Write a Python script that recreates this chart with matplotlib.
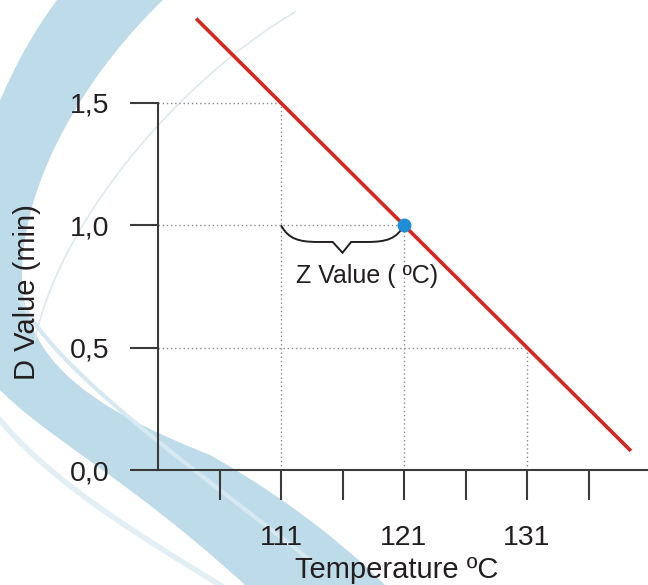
"""D value vs temperature with the Z value bracket."""

import numpy as np
import matplotlib
matplotlib.use("Agg")
import matplotlib.pyplot as plt
from matplotlib.path import Path
from matplotlib.patches import PathPatch, Polygon
from matplotlib.transforms import Affine2D

plt.rcParams["font.family"] = ["Liberation Sans", "DejaVu Sans"]

# values
grid_temps = [111, 121, 131]
grid_d = [1.5, 1.0, 0.5]
line_temps = [104.1, 139.45]
line_d = [1.845, 0.078]
ref_temp = 121
ref_d = 1.0
z_span = [111, 121]
x_ticks = [106, 111, 116, 121, 126, 131, 136]
x_labels = ["", "111", "", "121", "", "131", ""]
y_ticks = [0.0, 0.5, 1.0, 1.5]
y_labels = ["0,0", "0,5", "1,0", "1,5"]

W, H = 648, 585
INK = "#231f20"
AXIS = "#3a3a3a"


def bezier(*segments, n=60):
    """Chain of cubic segments, each given as (p0, p1, p2, p3), in pixel coords."""
    t = np.linspace(0, 1, n)[:, None]
    out = []
    for p0, p1, p2, p3 in segments:
        p0, p1, p2, p3 = (np.array(p, float) for p in (p0, p1, p2, p3))
        out.append(((1 - t) ** 3) * p0 + 3 * ((1 - t) ** 2) * t * p1
                   + 3 * (1 - t) * t ** 2 * p2 + t ** 3 * p3)
    return np.vstack(out)


def main() -> None:
    fig = plt.figure(figsize=(W / 100, H / 100), dpi=100)
    px = Affine2D().scale(1 / W, -1 / H).translate(0, 1) + fig.transFigure

    # decorative swoosh in the background
    outer = bezier(((57, 0), (-40, 130), (-70, 330), (0, 390)),
                   ((0, 390), (50, 440), (130, 480), (245, 585)))
    inner = bezier(((163, 0), (90, 70), (20, 180), (22, 280)),
                   ((22, 280), (25, 370), (110, 415), (210, 455)),
                   ((210, 455), (290, 500), (350, 550), (385, 585)))
    band = np.vstack([outer, inner[::-1]])
    fig.patches.append(Polygon(band, closed=True, transform=px, facecolor="#bddbe8",
                               edgecolor="none", zorder=0))
    streak = bezier(((295, 12), (180, 80), (60, 220), (35, 340)))
    fig.lines.append(plt.Line2D(streak[:, 0], streak[:, 1], transform=px, color="#dfe9ed",
                                lw=1.2, zorder=1))
    streak2 = bezier(((0, 420), (50, 480), (130, 530), (220, 585)))
    fig.lines.append(plt.Line2D(streak2[:, 0], streak2[:, 1], transform=px, color="#e2f0f5",
                                lw=4, zorder=1))
    streak3 = bezier(((20, 300), (60, 375), (190, 465), (310, 560)))
    fig.lines.append(plt.Line2D(streak3[:, 0], streak3[:, 1], transform=px, color="#d6e9f2",
                                lw=3, zorder=1))

    ax = fig.add_axes([158 / W, 115 / H, 490 / W, 470 / H])
    ax.set_zorder(3)
    ax.patch.set_visible(False)
    ax.set_xlim(101, 101 + 490 / 12.3)
    ax.set_ylim(0, 470 / 244.67)

    for t, d in zip(grid_temps, grid_d):
        ax.plot([101, t], [d, d], color="#8a8a8a", lw=1.0, ls=(0, (1, 2)), zorder=1)
        ax.plot([t, t], [0, d], color="#8a8a8a", lw=1.0, ls=(0, (1, 2)), zorder=1)

    ax.plot(line_temps, line_d, color="#d8261e", lw=2.6, solid_capstyle="butt", zorder=3)
    ax.plot([ref_temp], [ref_d], "o", color="#1e8fd6", ms=10, mec="none", zorder=4)

    # curly bracket under the Z span
    x0, x1 = z_span
    w = x1 - x0
    xm = (x0 + x1) / 2
    y = ref_d
    d1, d2 = 0.068, 0.112
    verts = [(x0, y), (x0 + 0.06 * w, y - 0.8 * d1), (x0 + 0.14 * w, y - d1), (x0 + 0.3 * w, y - d1),
             (xm - 0.08 * w, y - d1), (xm, y - d2), (xm + 0.07 * w, y - d1), (x1 - 0.3 * w, y - d1),
             (x1 - 0.14 * w, y - d1), (x1 - 0.06 * w, y - 0.8 * d1), (x1, y)]
    codes = [Path.MOVETO, Path.CURVE4, Path.CURVE4, Path.CURVE4,
             Path.LINETO, Path.LINETO, Path.LINETO, Path.LINETO,
             Path.CURVE4, Path.CURVE4, Path.CURVE4]
    ax.add_patch(PathPatch(Path(verts, codes), facecolor="none", edgecolor=INK, lw=1.4, zorder=2))
    ax.text(118.0, 0.793, "Z Value ( ºC)", fontsize=18, color=INK, ha="center", va="center")

    for side in ("top", "right"):
        ax.spines[side].set_visible(False)
    for side in ("left", "bottom"):
        ax.spines[side].set_color(AXIS)
        ax.spines[side].set_linewidth(1.5)
    ax.spines["left"].set_bounds(0, 1.5)

    ax.set_xticks(x_ticks, x_labels)
    ax.set_yticks(y_ticks, y_labels)
    ax.tick_params(axis="x", direction="out", length=21.6, width=1.5, color=AXIS,
                   labelsize=20.5, labelcolor=INK, pad=18)
    ax.tick_params(axis="y", direction="out", length=20.2, width=1.5, color=AXIS,
                   labelsize=20.5, labelcolor=INK, pad=15)
    ax.set_xlabel("Temperature ºC", fontsize=21, color=INK)
    ax.set_ylabel("D Value (min)", fontsize=21, color=INK)
    ax.xaxis.set_label_coords((397 - 158) / 490, (470 - 556) / 470)
    ax.yaxis.set_label_coords((41 - 158) / 490, (470 - 292) / 470)

    fig.savefig("out.png", dpi=100)


if __name__ == "__main__":
    main()
